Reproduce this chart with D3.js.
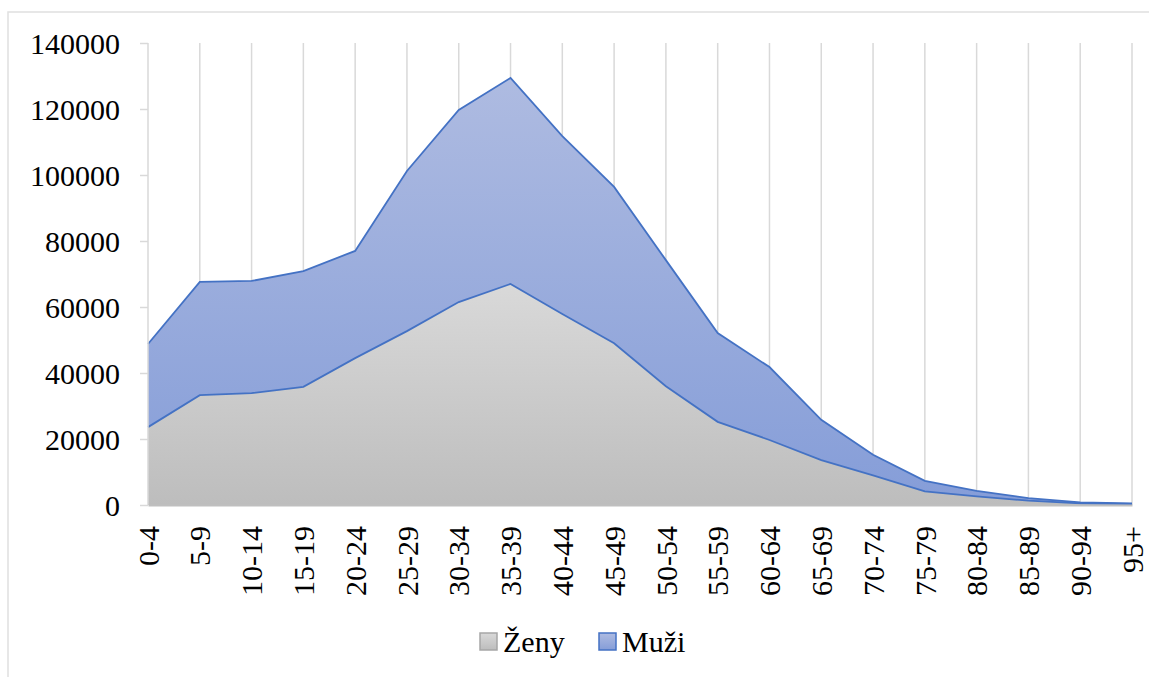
<!DOCTYPE html>
<html>
<head>
<meta charset="utf-8">
<script src="https://cdn.jsdelivr.net/npm/d3@7"></script>
<style>
    body { margin: 0; background: #fff; }
</style>
</head>
<body>
<div id="chart"></div>
<script>
// Age structure: stacked areas, women below, men on top

const ageGroups = ['0-4', '5-9', '10-14', '15-19', '20-24', '25-29', '30-34', '35-39', '40-44', '45-49',
    '50-54', '55-59', '60-64', '65-69', '70-74', '75-79', '80-84', '85-89', '90-94', '95+'];

const zeny = [23600, 33300, 33900, 35800, 44500, 52700, 61500, 67000, 57900, 49000,
    36000, 25200, 19700, 13600, 9000, 4100, 2600, 1300, 500, 300];

const muzi = [25200, 34300, 34000, 35100, 32500, 48500, 58200, 62400, 53900, 47400,
    38200, 26900, 22100, 12200, 6200, 3200, 1700, 800, 300, 200];

const yTicks = [0, 20000, 40000, 60000, 80000, 100000, 120000, 140000];

const seriesNames = ['Ženy', 'Muži'];

const FONT = '"Liberation Serif", "Times New Roman", Times, "DejaVu Serif", serif';

const W = 1149, H = 677;
const margin = {top: 43, right: 17, bottom: 172, left: 148};
const width = W - margin.left - margin.right;
const height = H - margin.top - margin.bottom;

const svg = d3.select('#chart').append('svg')
    .attr('width', W)
    .attr('height', H)
    .attr('font-family', FONT);

// gradients
const defs = svg.append('defs');
const gradGray = defs.append('linearGradient')
    .attr('id', 'gGray').attr('x1', 0).attr('y1', 0).attr('x2', 0).attr('y2', 1);
gradGray.append('stop').attr('offset', '0%').attr('stop-color', '#d9d9d9');
gradGray.append('stop').attr('offset', '100%').attr('stop-color', '#bdbdbd');

const gradBlue = defs.append('linearGradient')
    .attr('id', 'gBlue').attr('x1', 0).attr('y1', 0).attr('x2', 0).attr('y2', 1);
gradBlue.append('stop').attr('offset', '0%').attr('stop-color', '#aebbe1');
gradBlue.append('stop').attr('offset', '100%').attr('stop-color', '#859dd8');

// chart frame
svg.append('rect')
    .attr('x', 8).attr('y', 12)
    .attr('width', W).attr('height', H)
    .attr('fill', 'none')
    .attr('stroke', '#e0e0e0')
    .attr('stroke-width', 1.5);

const g = svg.append('g')
    .attr('transform', `translate(${margin.left},${margin.top})`);

const x = d3.scalePoint()
    .domain(ageGroups)
    .range([0, width]);

const y = d3.scaleLinear()
    .domain([0, 140000])
    .range([height, 0]);

// vertical gridlines
g.selectAll('.grid')
    .data(ageGroups.slice(1))
    .enter()
    .append('line')
    .attr('x1', d => x(d))
    .attr('x2', d => x(d))
    .attr('y1', 0)
    .attr('y2', height)
    .attr('stroke', '#d9d9d9')
    .attr('stroke-width', 1.5);

// stacked data
const rows = ageGroups.map((a, i) => ({age: a, 'Ženy': zeny[i], 'Muži': muzi[i]}));
const stacked = d3.stack().keys(seriesNames)(rows);

const area = d3.area()
    .x(d => x(d.data.age))
    .y0(d => y(d[0]))
    .y1(d => y(d[1]));

g.append('path')
    .datum(stacked[0])
    .attr('d', area)
    .attr('fill', 'url(#gGray)');

g.append('path')
    .datum(stacked[1])
    .attr('d', area)
    .attr('fill', 'url(#gBlue)');

// series outlines
const lineTop = d3.line().x(d => x(d.data.age)).y(d => y(d[1]));
stacked.forEach(s => {
    g.append('path')
        .datum(s)
        .attr('d', lineTop)
        .attr('fill', 'none')
        .attr('stroke', '#4472c4')
        .attr('stroke-width', 1.8);
});

// axes
const yAxis = d3.axisLeft(y)
    .tickValues(yTicks)
    .tickSize(8)
    .tickPadding(20)
    .tickFormat(d3.format('d'));

const yG = g.append('g').call(yAxis).attr('font-family', FONT).attr('font-size', 30);
yG.select('.domain').attr('stroke', '#d9d9d9').attr('stroke-width', 1.5).attr('d', `M0,0V${height}`);
yG.selectAll('.tick line').attr('stroke', '#d9d9d9').attr('stroke-width', 1.5);
yG.selectAll('.tick text').attr('dy', '0.34em');

const xG = g.append('g')
    .attr('transform', `translate(0,${height})`)
    .call(d3.axisBottom(x).tickSize(0))
    .attr('font-family', FONT).attr('font-size', 30);
xG.select('.domain').attr('stroke', '#bfbfbf').attr('stroke-width', 2);
xG.selectAll('.tick text')
    .attr('transform', 'rotate(-90)')
    .attr('text-anchor', 'end')
    .attr('x', -21)
    .attr('y', 0)
    .attr('dy', '0.34em');

// legend
const legendItems = [
    {name: 'Ženy', fill: 'url(#gGray)', stroke: '#a6a6a6', x: 480},
    {name: 'Muži', fill: 'url(#gBlue)', stroke: '#4472c4', x: 599}
];
const legend = svg.append('g');
legendItems.forEach(item => {
    legend.append('rect')
        .attr('x', item.x).attr('y', 633)
        .attr('width', 17).attr('height', 17)
        .attr('fill', item.fill)
        .attr('stroke', item.stroke)
        .attr('stroke-width', 1.5);
    legend.append('text')
        .attr('x', item.x + 23)
        .attr('y', 652)
        .attr('font-size', 30)
        .text(item.name);
});
</script>
</body>
</html>
